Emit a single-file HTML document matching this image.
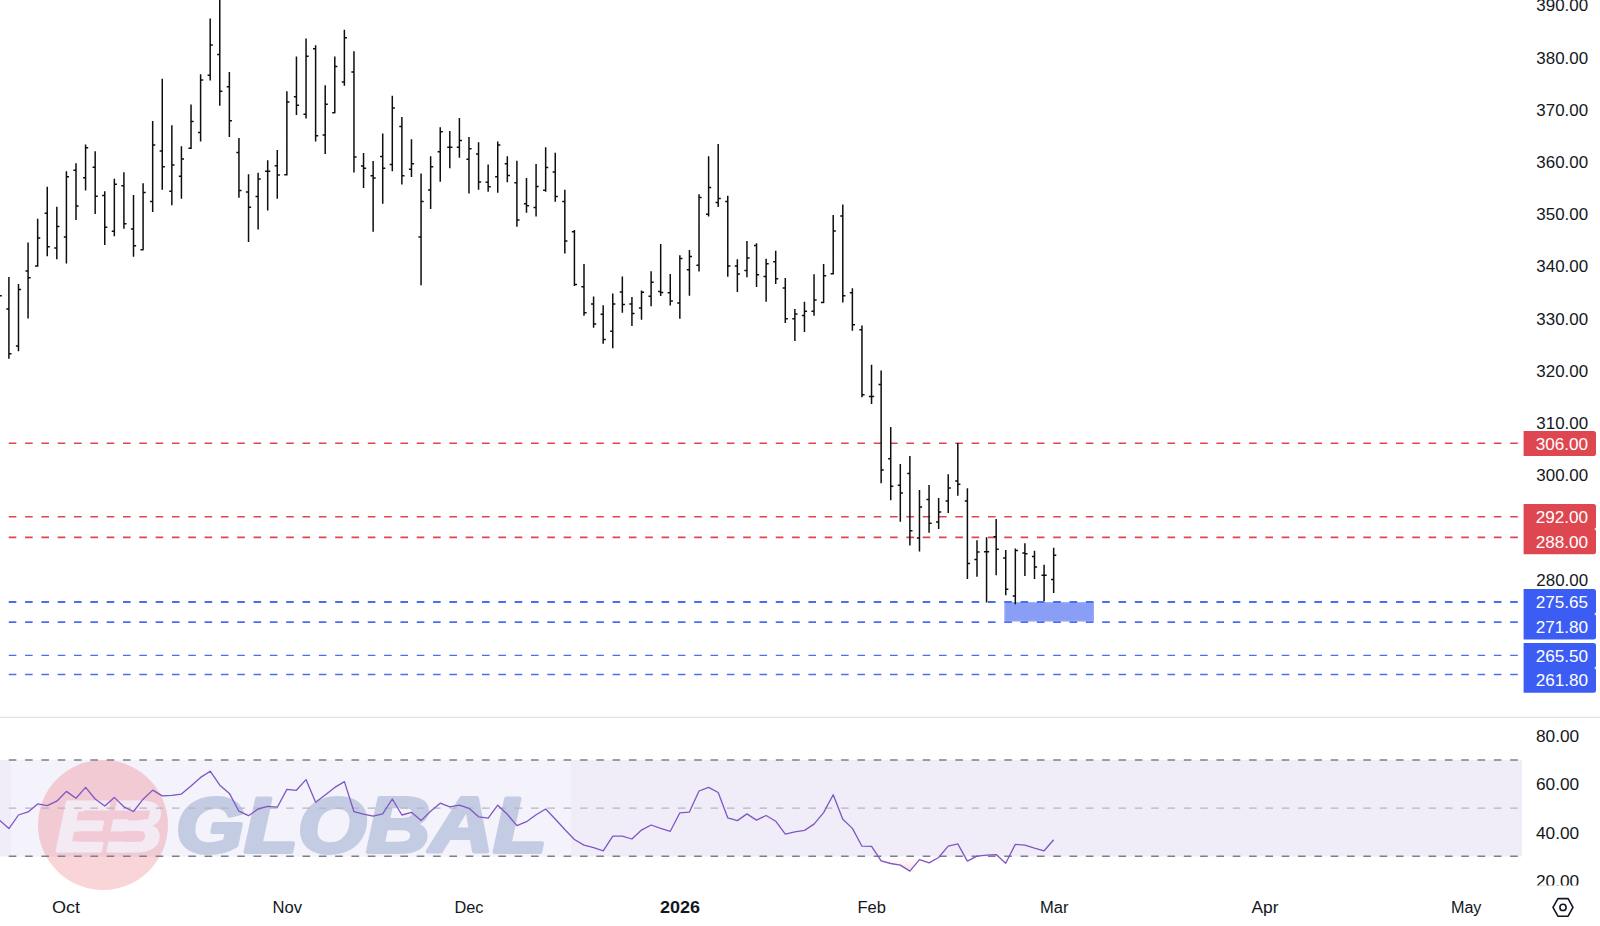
<!DOCTYPE html>
<html lang="en"><head><meta charset="utf-8"><title>Chart</title>
<style>
html,body{margin:0;padding:0;background:#fff;}
body{width:1600px;height:926px;overflow:hidden;}
svg{display:block;}
text{font-family:"Liberation Sans",sans-serif;fill:#131722;}
.t{font-size:16px;}
.w{fill:#fff;}
.b{font-weight:bold;}
</style></head><body>
<svg width="1600" height="926" viewBox="0 0 1600 926">
<rect width="1600" height="926" fill="#fff"/>

<rect x="0" y="760" width="1522" height="96.5" fill="#f0edf9"/>
<rect x="11" y="760" width="560" height="96.5" fill="#fff" opacity="0.28"/>
<g id="wm">
<circle cx="103" cy="825" r="65" fill="#e41e32" opacity="0.19"/>
<text x="56" y="850.5" class="b" style="font-size:71px;font-style:italic;fill:#f4f2fb;stroke:#f4f2fb;stroke-width:3.2px;stroke-linejoin:round;opacity:.8" textLength="106" lengthAdjust="spacingAndGlyphs">EB</text>
<path d="M84 810.6H150L148.2 819.2H82.2Z M80 831.6H144L142 841.4H78Z" fill="#f1cad5"/>
<text x="176" y="852" class="b" style="font-size:77px;font-style:italic;fill:#1e4a9a;stroke:#1e4a9a;stroke-width:4px;stroke-linejoin:round;opacity:.22" textLength="371" lengthAdjust="spacingAndGlyphs">GLOBAL</text>
</g>
<line x1="8.75" y1="760" x2="1518" y2="760" stroke="#7d7f8a" stroke-width="1.5" stroke-dasharray="7.6 8.72"/>
<line x1="8.75" y1="808.1" x2="1518" y2="808.1" stroke="#b4b6be" stroke-width="1.2" stroke-dasharray="7.6 8.72"/>
<line x1="8.75" y1="856.2" x2="1518" y2="856.2" stroke="#7d7f8a" stroke-width="1.5" stroke-dasharray="7.6 8.72"/>
<defs><linearGradient id="pg" gradientUnits="userSpaceOnUse" x1="0" y1="857" x2="0" y2="876"><stop offset="0" stop-color="#f7c5cd" stop-opacity="0"/><stop offset="1" stop-color="#f5a8b4" stop-opacity="1"/></linearGradient><clipPath id="c30"><rect x="0" y="857" width="1522" height="30"/></clipPath></defs>
<polygon points="-0.7,857 -0.7,820.1 8.9,828.6 18.5,815.0 28.1,811.9 37.7,803.9 47.2,805.7 56.8,801.2 66.4,791.4 76.0,798.3 85.6,787.4 95.2,799.0 104.8,806.1 114.3,797.4 123.9,806.8 133.5,811.5 143.1,799.2 152.7,790.1 162.3,795.9 171.8,795.4 181.4,794.1 191.0,786.1 200.6,777.4 210.2,771.2 219.8,785.2 229.4,793.4 238.9,811.2 248.5,815.7 258.1,809.0 267.7,806.3 277.3,807.2 286.9,789.4 296.4,790.3 306.0,779.6 315.6,802.3 325.2,795.0 334.8,787.4 344.4,781.6 354.0,811.7 363.5,814.1 373.1,816.1 382.7,813.9 392.3,799.0 401.9,815.0 411.5,812.3 421.1,820.6 430.6,811.2 440.2,803.2 449.8,806.8 459.4,805.2 469.0,808.3 478.6,816.8 488.2,818.1 497.7,805.2 507.3,814.3 516.9,825.7 526.5,821.7 536.1,814.8 545.7,809.0 555.2,819.0 564.8,829.5 574.4,839.5 584.0,845.1 593.6,847.7 603.2,850.8 612.8,836.2 622.3,836.2 631.9,839.0 641.5,830.1 651.1,825.0 660.7,828.4 670.3,831.3 679.9,812.8 689.4,812.1 699.0,791.0 708.6,787.4 718.2,792.5 727.8,817.9 737.4,820.6 746.9,813.9 756.5,820.1 766.1,815.5 775.7,821.2 785.3,834.2 794.9,831.9 804.5,830.4 814.0,824.1 823.6,812.6 833.2,794.8 842.8,819.2 852.4,828.4 862.0,846.2 871.6,846.4 881.1,860.9 890.7,863.5 900.3,865.1 909.9,871.1 919.5,859.7 929.1,862.9 938.6,857.5 948.2,846.2 957.8,843.9 967.4,861.1 977.0,856.2 986.6,855.1 996.2,854.6 1005.7,863.3 1015.3,844.4 1024.9,845.1 1034.5,848.2 1044.1,850.8 1053.7,839.7 1053.7,857" fill="url(#pg)" clip-path="url(#c30)" opacity="0.6"/>
<polyline points="-0.7,820.1 8.9,828.6 18.5,815.0 28.1,811.9 37.7,803.9 47.2,805.7 56.8,801.2 66.4,791.4 76.0,798.3 85.6,787.4 95.2,799.0 104.8,806.1 114.3,797.4 123.9,806.8 133.5,811.5 143.1,799.2 152.7,790.1 162.3,795.9 171.8,795.4 181.4,794.1 191.0,786.1 200.6,777.4 210.2,771.2 219.8,785.2 229.4,793.4 238.9,811.2 248.5,815.7 258.1,809.0 267.7,806.3 277.3,807.2 286.9,789.4 296.4,790.3 306.0,779.6 315.6,802.3 325.2,795.0 334.8,787.4 344.4,781.6 354.0,811.7 363.5,814.1 373.1,816.1 382.7,813.9 392.3,799.0 401.9,815.0 411.5,812.3 421.1,820.6 430.6,811.2 440.2,803.2 449.8,806.8 459.4,805.2 469.0,808.3 478.6,816.8 488.2,818.1 497.7,805.2 507.3,814.3 516.9,825.7 526.5,821.7 536.1,814.8 545.7,809.0 555.2,819.0 564.8,829.5 574.4,839.5 584.0,845.1 593.6,847.7 603.2,850.8 612.8,836.2 622.3,836.2 631.9,839.0 641.5,830.1 651.1,825.0 660.7,828.4 670.3,831.3 679.9,812.8 689.4,812.1 699.0,791.0 708.6,787.4 718.2,792.5 727.8,817.9 737.4,820.6 746.9,813.9 756.5,820.1 766.1,815.5 775.7,821.2 785.3,834.2 794.9,831.9 804.5,830.4 814.0,824.1 823.6,812.6 833.2,794.8 842.8,819.2 852.4,828.4 862.0,846.2 871.6,846.4 881.1,860.9 890.7,863.5 900.3,865.1 909.9,871.1 919.5,859.7 929.1,862.9 938.6,857.5 948.2,846.2 957.8,843.9 967.4,861.1 977.0,856.2 986.6,855.1 996.2,854.6 1005.7,863.3 1015.3,844.4 1024.9,845.1 1034.5,848.2 1044.1,850.8 1053.7,839.7" fill="none" stroke="#7e57c2" stroke-width="1.3" stroke-linejoin="round"/>
<rect x="0" y="716.8" width="1600" height="1.2" fill="#dfe1e6"/>
<rect x="1004.9" y="602.7" width="88.5" height="18.3" fill="#899ef5" stroke="#98abf8" stroke-width="1.2"/>
<line x1="8.75" y1="443.25" x2="1518" y2="443.25" stroke="#e0444e" stroke-width="1.6" stroke-dasharray="7.6 8.72"/>
<line x1="8.75" y1="516.8" x2="1518" y2="516.8" stroke="#e0444e" stroke-width="1.6" stroke-dasharray="7.6 8.72"/>
<line x1="8.75" y1="537.35" x2="1518" y2="537.35" stroke="#e0444e" stroke-width="1.6" stroke-dasharray="7.6 8.72"/>
<line x1="8.75" y1="602.0" x2="1518" y2="602.0" stroke="#4b6df5" stroke-width="1.9" stroke-dasharray="7.6 8.72"/>
<line x1="8.75" y1="622.1" x2="1518" y2="622.1" stroke="#4b6df5" stroke-width="1.9" stroke-dasharray="7.6 8.72"/>
<line x1="8.75" y1="655.35" x2="1518" y2="655.35" stroke="#4b6df5" stroke-width="1.4" stroke-dasharray="7.6 8.72"/>
<line x1="8.75" y1="674.5" x2="1518" y2="674.5" stroke="#4b6df5" stroke-width="1.4" stroke-dasharray="7.6 8.72"/>
<path d="M8.90 277.00V358.75M6.30 309.00H8.90M8.90 353.75H11.50M18.48 284.00V351.25M15.88 346.00H18.48M18.48 289.50H21.09M28.07 242.50V318.50M25.47 271.00H28.07M28.07 277.75H30.67M37.66 218.75V266.75M35.05 266.00H37.66M37.66 238.00H40.26M47.24 186.75V256.25M44.64 213.25H47.24M47.24 246.75H49.84M56.83 206.75V259.25M54.23 248.00H56.83M56.83 226.50H59.43M66.41 171.25V263.50M63.81 237.00H66.41M66.41 176.75H69.01M76.00 163.25V220.00M73.40 170.25H76.00M76.00 206.00H78.59M85.58 144.50V190.50M82.98 177.75H85.58M85.58 147.75H88.18M95.17 151.25V214.00M92.57 167.25H95.17M95.17 196.25H97.77M104.75 191.25V245.00M102.15 195.50H104.75M104.75 227.25H107.35M114.34 178.75V236.25M111.74 231.25H114.34M114.34 184.25H116.94M123.92 172.25V228.75M121.32 185.75H123.92M123.92 223.75H126.52M133.51 195.00V256.75M130.91 229.00H133.51M133.51 245.75H136.11M143.09 183.25V250.25M140.49 249.75H143.09M143.09 192.50H145.69M152.68 121.00V212.00M150.08 201.50H152.68M152.68 145.00H155.28M162.26 78.75V189.75M159.66 151.00H162.26M162.26 166.75H164.86M171.85 125.25V205.25M169.25 191.25H171.85M171.85 165.00H174.45M181.43 146.25V198.75M178.83 176.25H181.43M181.43 159.00H184.03M191.02 104.50V149.00M188.42 148.25H191.02M191.02 121.50H193.62M200.60 74.25V141.50M198.00 132.50H200.60M200.60 80.00H203.20M210.19 18.50V80.50M207.59 75.25H210.19M210.19 45.00H212.79M219.77 0.00V105.75M217.17 54.50H219.77M219.77 91.25H222.37M229.36 72.00V137.00M226.76 86.75H229.36M229.36 120.75H231.96M238.94 138.00V197.75M236.34 152.50H238.94M238.94 190.50H241.54M248.53 174.25V242.00M245.93 192.00H248.53M248.53 207.25H251.13M258.11 172.75V229.50M255.51 196.50H258.11M258.11 179.00H260.71M267.69 160.25V210.50M265.09 171.25H267.69M267.69 171.25H270.30M277.28 150.00V198.75M274.68 165.75H277.28M277.28 175.00H279.88M286.87 91.25V175.50M284.26 174.75H286.87M286.87 102.00H289.47M296.45 56.50V115.00M293.85 96.75H296.45M296.45 105.25H299.05M306.04 38.50V118.50M303.44 114.25H306.04M306.04 56.25H308.64M315.62 45.25V141.50M313.02 48.75H315.62M315.62 135.75H318.22M325.20 85.25V154.00M322.60 135.00H325.20M325.20 104.25H327.81M334.79 56.50V113.25M332.19 112.75H334.79M334.79 66.50H337.39M344.38 29.75V85.75M341.77 82.00H344.38M344.38 37.75H346.98M353.96 51.25V172.50M351.36 72.00H353.96M353.96 157.00H356.56M363.55 153.00V188.00M360.94 166.00H363.55M363.55 168.25H366.15M373.13 161.00V231.75M370.53 175.75H373.13M373.13 178.00H375.73M382.72 133.50V203.75M380.12 156.50H382.72M382.72 168.25H385.32M392.30 95.75V171.25M389.70 164.50H392.30M392.30 108.00H394.90M401.88 117.00V184.50M399.28 126.50H401.88M401.88 175.75H404.49M411.47 139.25V177.00M408.87 169.25H411.47M411.47 163.75H414.07M421.06 173.50V285.25M418.45 237.00H421.06M421.06 201.50H423.66M430.64 156.25V209.00M428.04 190.00H430.64M430.64 166.75H433.24M440.23 127.25V181.75M437.62 151.75H440.23M440.23 131.75H442.83M449.81 131.00V168.25M447.21 147.25H449.81M449.81 147.25H452.41M459.40 118.00V157.75M456.80 147.25H459.40M459.40 140.50H462.00M468.98 137.00V193.50M466.38 159.25H468.98M468.98 148.75H471.58M478.56 142.25V189.75M475.96 154.00H478.56M478.56 182.00H481.17M488.15 164.50V191.75M485.55 182.25H488.15M488.15 186.75H490.75M497.74 141.50V192.75M495.13 176.75H497.74M497.74 145.00H500.34M507.32 156.25V182.25M504.72 163.75H507.32M507.32 175.50H509.92M516.91 160.75V226.75M514.31 182.75H516.91M516.91 220.00H519.51M526.49 178.00V212.75M523.89 203.75H526.49M526.49 205.75H529.09M536.08 164.00V216.50M533.48 207.50H536.08M536.08 186.50H538.68M545.66 147.25V191.75M543.06 190.25H545.66M545.66 167.50H548.26M555.25 152.75V201.75M552.64 172.00H555.25M555.25 196.50H557.85M564.83 189.75V253.50M562.23 201.50H564.83M564.83 241.00H567.43M574.42 230.00V286.00M571.82 231.75H574.42M574.42 284.50H577.02M584.00 264.00V315.75M581.40 286.75H584.00M584.00 312.75H586.60M593.59 296.50V327.75M590.99 304.00H593.59M593.59 324.00H596.19M603.17 305.25V343.75M600.57 314.25H603.17M603.17 339.50H605.77M612.75 293.50V348.25M610.15 331.25H612.75M612.75 304.00H615.36M622.34 276.50V312.75M619.74 292.00H622.34M622.34 304.50H624.94M631.93 297.00V326.00M629.33 304.00H631.93M631.93 313.50H634.53M641.51 290.50V319.75M638.91 308.00H641.51M641.51 292.25H644.11M651.10 271.25V306.25M648.50 296.25H651.10M651.10 282.25H653.70M660.68 244.00V296.00M658.08 291.50H660.68M660.68 292.50H663.28M670.26 274.00V305.50M667.66 292.75H670.26M670.26 301.00H672.87M679.85 255.25V318.75M677.25 303.00H679.85M679.85 258.50H682.45M689.44 250.00V295.75M686.84 269.75H689.44M689.44 256.50H692.04M699.02 194.25V271.50M696.42 265.25H699.02M699.02 197.50H701.62M708.61 156.25V216.50M706.00 214.25H708.61M708.61 187.50H711.21M718.19 144.00V207.00M715.59 202.50H718.19M718.19 198.50H720.79M727.78 195.75V276.75M725.18 201.50H727.78M727.78 266.00H730.38M737.36 259.25V292.00M734.76 266.00H737.36M737.36 274.00H739.96M746.95 241.00V277.25M744.35 270.50H746.95M746.95 258.00H749.55M756.53 243.25V287.00M753.93 245.50H756.53M756.53 274.75H759.13M766.12 258.75V301.75M763.51 276.50H766.12M766.12 263.75H768.72M775.70 250.75V284.00M773.10 261.75H775.70M775.70 278.75H778.30M785.29 278.00V323.00M782.69 288.00H785.29M785.29 318.75H787.89M794.87 309.00V341.00M792.27 318.75H794.87M794.87 314.00H797.47M804.46 301.75V332.00M801.86 315.50H804.46M804.46 311.25H807.06M814.04 274.25V315.75M811.44 311.25H814.04M814.04 300.00H816.64M823.62 264.00V303.00M821.02 302.50H823.62M823.62 275.75H826.23M833.21 215.00V274.50M830.61 273.75H833.21M833.21 231.00H835.81M842.80 204.50V302.50M840.20 216.00H842.80M842.80 295.75H845.40M852.38 288.25V330.75M849.78 292.75H852.38M852.38 324.75H854.98M861.97 325.50V397.25M859.37 329.75H861.97M861.97 394.75H864.57M871.55 364.75V404.00M868.95 396.50H871.55M871.55 396.50H874.15M881.14 370.50V483.25M878.54 384.50H881.14M881.14 470.00H883.74M890.72 427.00V500.25M888.12 458.75H890.72M890.72 486.25H893.32M900.31 464.00V521.75M897.71 485.25H900.31M900.31 493.00H902.91M909.89 456.00V545.50M907.29 473.50H909.89M909.89 530.75H912.49M919.48 490.00V551.50M916.88 538.00H919.48M919.48 507.00H922.08M929.06 485.00V532.75M926.46 499.50H929.06M929.06 523.25H931.66M938.65 498.00V529.00M936.05 522.00H938.65M938.65 512.00H941.25M948.23 474.25V513.00M945.63 501.00H948.23M948.23 488.00H950.83M957.82 443.00V495.75M955.22 481.00H957.82M957.82 484.25H960.42M967.40 488.25V579.00M964.80 501.00H967.40M967.40 563.50H970.00M976.99 540.25V576.75M974.38 559.50H976.99M976.99 552.00H979.59M986.57 537.25V602.50M983.97 551.75H986.57M986.57 551.75H989.17M996.16 519.00V575.25M993.56 536.75H996.16M996.16 549.25H998.76M1005.74 550.00V595.25M1003.14 558.00H1005.74M1005.74 589.25H1008.34M1015.33 548.50V604.25M1012.73 596.00H1015.33M1015.33 550.50H1017.93M1024.91 543.25V576.00M1022.31 553.00H1024.91M1024.91 553.75H1027.51M1034.50 550.75V579.00M1031.90 556.50H1034.50M1034.50 567.00H1037.10M1044.08 564.75V601.00M1041.48 575.25H1044.08M1044.08 575.25H1046.68M1053.67 547.75V593.00M1051.07 579.50H1053.67M1053.67 555.25H1056.27M-1 295.75H1.8" stroke="#0e0e0e" stroke-width="1.5" fill="none"/>
<text x="1536.3" y="585.74" font-size="15.7" textLength="51.8" lengthAdjust="spacingAndGlyphs">280.00</text>
<text x="1536.3" y="481.32" font-size="15.7" textLength="51.8" lengthAdjust="spacingAndGlyphs">300.00</text>
<text x="1536.3" y="429.11" font-size="15.7" textLength="51.8" lengthAdjust="spacingAndGlyphs">310.00</text>
<text x="1536.3" y="376.90" font-size="15.7" textLength="51.8" lengthAdjust="spacingAndGlyphs">320.00</text>
<text x="1536.3" y="324.69" font-size="15.7" textLength="51.8" lengthAdjust="spacingAndGlyphs">330.00</text>
<text x="1536.3" y="272.48" font-size="15.7" textLength="51.8" lengthAdjust="spacingAndGlyphs">340.00</text>
<text x="1536.3" y="220.27" font-size="15.7" textLength="51.8" lengthAdjust="spacingAndGlyphs">350.00</text>
<text x="1536.3" y="168.06" font-size="15.7" textLength="51.8" lengthAdjust="spacingAndGlyphs">360.00</text>
<text x="1536.3" y="115.85" font-size="15.7" textLength="51.8" lengthAdjust="spacingAndGlyphs">370.00</text>
<text x="1536.3" y="63.64" font-size="15.7" textLength="51.8" lengthAdjust="spacingAndGlyphs">380.00</text>
<text x="1536.3" y="11.43" font-size="15.7" textLength="51.8" lengthAdjust="spacingAndGlyphs">390.00</text>
<path d="M1523.6 431H1593.5a2.5 2.5 0 0 1 2.5 2.5V453.5a2.5 2.5 0 0 1 -2.5 2.5H1523.6Z" fill="#de474f"/>
<text x="1535.7" y="449.62" font-size="15.7" textLength="52.4" lengthAdjust="spacingAndGlyphs" class="w">306.00</text>
<path d="M1523.6 504H1593.5a2.5 2.5 0 0 1 2.5 2.5V526.5a2.5 2.5 0 0 1 -2.5 2.5H1523.6Z" fill="#de474f"/>
<text x="1535.7" y="523.12" font-size="15.7" textLength="52.4" lengthAdjust="spacingAndGlyphs" class="w">292.00</text>
<path d="M1523.6 529H1593.5a2.5 2.5 0 0 1 2.5 2.5V551.8a2.5 2.5 0 0 1 -2.5 2.5H1523.6Z" fill="#de474f"/>
<text x="1535.7" y="548.12" font-size="15.7" textLength="52.4" lengthAdjust="spacingAndGlyphs" class="w">288.00</text>
<path d="M1523.6 589H1593.5a2.5 2.5 0 0 1 2.5 2.5V611.5a2.5 2.5 0 0 1 -2.5 2.5H1523.6Z" fill="#3b5df3"/>
<text x="1535.7" y="608.02" font-size="15.7" textLength="52.4" lengthAdjust="spacingAndGlyphs" class="w">275.65</text>
<path d="M1523.6 614H1593.5a2.5 2.5 0 0 1 2.5 2.5V637.1a2.5 2.5 0 0 1 -2.5 2.5H1523.6Z" fill="#3b5df3"/>
<text x="1535.7" y="633.22" font-size="15.7" textLength="52.4" lengthAdjust="spacingAndGlyphs" class="w">271.80</text>
<path d="M1523.6 643H1593.5a2.5 2.5 0 0 1 2.5 2.5V665.5a2.5 2.5 0 0 1 -2.5 2.5H1523.6Z" fill="#3b5df3"/>
<text x="1535.7" y="661.52" font-size="15.7" textLength="52.4" lengthAdjust="spacingAndGlyphs" class="w">265.50</text>
<path d="M1523.6 668H1593.5a2.5 2.5 0 0 1 2.5 2.5V690.2a2.5 2.5 0 0 1 -2.5 2.5H1523.6Z" fill="#3b5df3"/>
<text x="1535.7" y="686.42" font-size="15.7" textLength="52.4" lengthAdjust="spacingAndGlyphs" class="w">261.80</text>
<clipPath id="cr"><rect x="1522" y="718" width="78" height="167.6"/></clipPath><g clip-path="url(#cr)">
<text x="1536" y="741.62" font-size="15.7" textLength="43.2" lengthAdjust="spacingAndGlyphs">80.00</text>
<text x="1536" y="789.82" font-size="15.7" textLength="43.2" lengthAdjust="spacingAndGlyphs">60.00</text>
<text x="1536" y="839.02" font-size="15.7" textLength="43.2" lengthAdjust="spacingAndGlyphs">40.00</text>
<text x="1536" y="887.22" font-size="15.7" textLength="43.2" lengthAdjust="spacingAndGlyphs">20.00</text>
</g>
<text x="52.00" y="913" font-size="16" textLength="28" lengthAdjust="spacingAndGlyphs">Oct</text>
<text x="272.50" y="913" font-size="16" textLength="29.5" lengthAdjust="spacingAndGlyphs">Nov</text>
<text x="454.50" y="913" font-size="16" textLength="29" lengthAdjust="spacingAndGlyphs">Dec</text>
<text x="660.00" y="913" font-size="16" textLength="40" lengthAdjust="spacingAndGlyphs" class="b">2026</text>
<text x="857.50" y="913" font-size="16" textLength="28.5" lengthAdjust="spacingAndGlyphs">Feb</text>
<text x="1039.95" y="913" font-size="16" textLength="28.5" lengthAdjust="spacingAndGlyphs">Mar</text>
<text x="1251.50" y="913" font-size="16" textLength="27" lengthAdjust="spacingAndGlyphs">Apr</text>
<text x="1450.95" y="913" font-size="16" textLength="30.5" lengthAdjust="spacingAndGlyphs">May</text>
<g fill="none" stroke="#131722" stroke-width="1.6" stroke-linejoin="round"><path d="M1553 907.4L1557.9 898.6H1568.1L1573 907.4L1568.1 916.2H1557.9Z"/><circle cx="1563" cy="907.4" r="3.1"/></g>
</svg></body></html>
